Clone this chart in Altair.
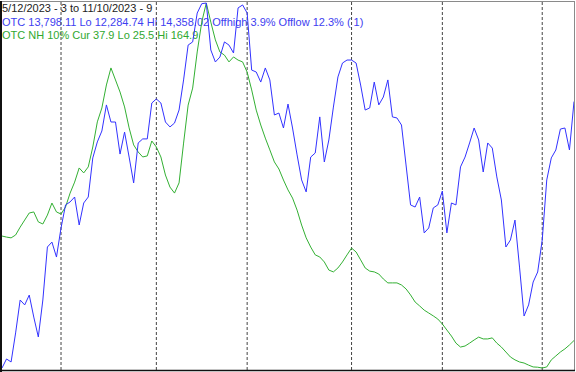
import altair as alt
import pandas as pd

# trading-day ordinal (0 = 5/12/2023 ... 126 = 11/10/2023)
otc = [12284.74, 12336, 12319, 12484, 12671, 12643, 12699, 12574, 12461, 12671,
       12972, 13000, 12915, 13080, 13211, 13228, 13256, 13097, 13222, 13256,
       13478, 13569, 13631, 13779, 13682, 13682, 13500, 13625, 13483, 13336,
       13563, 13586, 13586, 13790, 13813, 13790, 13682, 13654, 13676, 13750,
       13921, 14119, 14137, 14301, 14354, 14358.02, 14091, 14023, 14051, 14137,
       14119, 14074, 14330, 14347, 14301, 13977, 13966, 13909, 13989, 13921,
       13722, 13733, 13648, 13784, 13648, 13495, 13353, 13285, 13483, 13506,
       13711, 13455, 13580, 13767, 13938, 14017, 14034, 14034, 14017, 13892,
       13750, 13762, 13909, 13779, 13824, 13921, 13711, 13705, 13665, 13438,
       13211, 13199, 13256, 13052, 13080, 13194, 13211, 13290, 13052, 13222,
       13211, 13427, 13483, 13563, 13648, 13580, 13398, 13563, 13534, 13370,
       13239, 12972, 13012, 13125, 12858, 12580, 12643, 12773, 12830, 13012,
       13353, 13478, 13523, 13642, 13648, 13523, 13798.11]

nh10 = [75.9, 75.5, 75.2, 76.3, 79.3, 82.0, 84.7, 85.1, 81.3, 80.5,
        83.9, 88.5, 85.1, 84.3, 87.0, 92.3, 96.5, 101.9, 100.0, 102.3,
        109.9, 119.5, 124.8, 133.6, 140.1, 135.5, 130.9, 125.2, 117.2, 110.7,
        108.0, 106.1, 106.5, 112.2, 109.9, 106.1, 99.2, 94.6, 92.3, 96.2,
        111.4, 125.9, 132.4, 146.2, 157.6, 164.9, 157.6, 150.8, 146.2, 145.0,
        142.4, 144.3, 143.1, 142.4, 138.5, 131.7, 124.0, 118.3, 113.3, 108.8,
        104.2, 101.5, 97.3, 93.5, 90.4, 85.8, 80.1, 75.2, 71.7, 68.7,
        67.9, 66.0, 62.9, 62.2, 63.7, 66.0, 68.7, 71.3, 69.8, 66.8,
        63.7, 62.5, 62.2, 61.4, 59.5, 58.0, 58.0, 58.0, 57.2, 55.7,
        53.4, 50.7, 49.2, 47.6, 46.5, 45.4, 44.2, 42.3, 40.0, 37.7,
        35.0, 33.5, 33.9, 35.0, 36.2, 37.3, 36.6, 36.6, 37.0, 35.0,
        33.5, 31.6, 29.7, 28.6, 27.8, 27.4, 26.6, 25.9, 25.8, 25.5,
        25.9, 28.6, 30.1, 31.6, 32.8, 34.3, 36.0]

month_start_days = [13, 34, 54, 77, 97, 119]

header_lines = [
    "5/12/2023 - 3 to 11/10/2023 - 9",
    "OTC 13,798.11 Lo 12,284.74 Hi 14,358.02 Offhigh 3.9%  Offlow 12.3% ( 1)",
    "OTC NH 10% Cur 37.9 Lo 25.5 Hi 164.9",
]

otc_lo, otc_hi = 12284.74, 14358.02
nh_lo, nh_hi = 25.5, 164.9

BLUE = "#3232ff"
GREEN = "#33b033"

df = pd.DataFrame({"day": list(range(len(otc))), "otc": otc, "nh": nh10})
months = pd.DataFrame({"day": month_start_days})
dummy = pd.DataFrame({"k": [0]})

xs = alt.Scale(domain=[0, len(otc) - 1], range=[2, 574], nice=False, zero=False)

texts = []
for line, yy, col in zip(header_lines, [12, 25.5, 39], ["#222222", "#4040f0", "#30a830"]):
    texts.append(
        alt.Chart(dummy).mark_text(align="left", baseline="alphabetic",
                                   font="Liberation Sans", fontSize=11, color=col)
        .encode(x=alt.value(2), y=alt.value(yy), text=alt.value(line))
    )

rules = alt.Chart(months).mark_rule(color="#444444", strokeDash=[3, 2], strokeWidth=1).encode(
    x=alt.X("day:Q", scale=xs, axis=None), y=alt.value(2), y2=alt.value(370)
)

green = alt.Chart(df).mark_line(color=GREEN, strokeWidth=1).encode(
    x=alt.X("day:Q", scale=xs, axis=None),
    y=alt.Y("nh:Q", scale=alt.Scale(domain=[nh_lo, nh_hi], range=[368, 3], nice=False, zero=False), axis=None),
)

blue = alt.Chart(df).mark_line(color=BLUE, strokeWidth=1).encode(
    x=alt.X("day:Q", scale=xs, axis=None),
    y=alt.Y("otc:Q", scale=alt.Scale(domain=[otc_lo, otc_hi], range=[368, 3], nice=False, zero=False), axis=None),
)

frame_top = alt.Chart(dummy).mark_rule(color="#8a8a8a", strokeWidth=1).encode(
    x=alt.value(0), x2=alt.value(575), y=alt.value(1.5))
frame_right = alt.Chart(dummy).mark_rule(color="#8a8a8a", strokeWidth=1).encode(
    x=alt.value(574.5), y=alt.value(1), y2=alt.value(371))
frame_left = alt.Chart(dummy).mark_rule(color="#111111", strokeWidth=2).encode(
    x=alt.value(1), y=alt.value(1), y2=alt.value(372))
frame_bottom = alt.Chart(dummy).mark_rule(color="#111111", strokeWidth=1.5).encode(
    x=alt.value(0), x2=alt.value(575), y=alt.value(370.5))

chart = alt.layer(
    *texts, rules, green, blue, frame_top, frame_right, frame_left, frame_bottom
).resolve_scale(y="independent").properties(
    width=576, height=372, autosize=alt.AutoSizeParams(type="none"), padding=0,
    background="white"
).configure_view(stroke="transparent")

chart.save("out.html", embed_options={"renderer": "svg", "actions": False})
